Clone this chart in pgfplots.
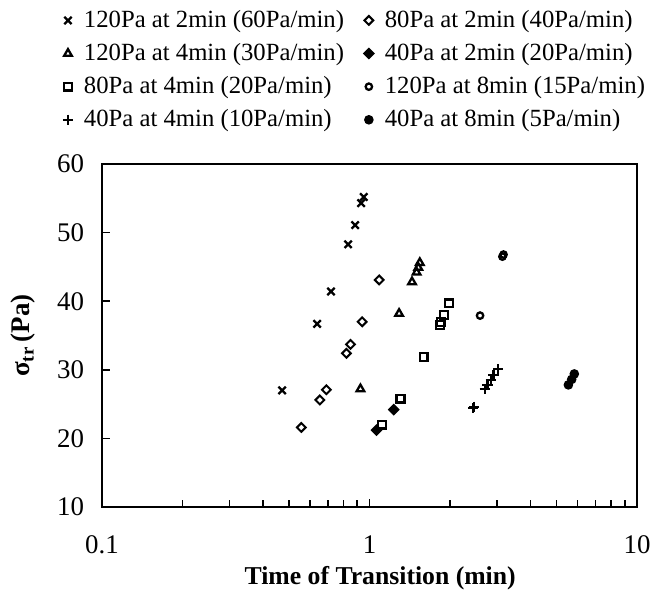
\documentclass[border=0pt]{standalone}
\usepackage{fontspec}
\setmainfont{Liberation Serif}
\usepackage{pgfplots}
\pgfplotsset{compat=1.18}
\begin{document}
\begin{tikzpicture}
\begin{axis}[
  scale only axis,
  width=267.5bp, height=171.5bp,
  xmode=log,
  xmin=0.1, xmax=10, ymin=10, ymax=60,
  xtick={0.1,1,10}, xticklabels={0.1,1,10},
  minor xtick={0.2,0.3,0.4,0.5,0.6,0.7,0.8,0.9,2,3,4,5,6,7,8,9},
  ytick={10,20,30,40,50,60},
  xtick pos=left, ytick pos=left,
  tick align=inside,
  major tick length=4bp, minor tick length=3.3bp,
  axis line style={line width=1bp},
  every tick/.style={black, line width=0.8bp},
  /pgf/number format/assume math mode=true,
  ticklabel style={font=\fontsize{13.5}{15}\selectfont},
  xticklabel style={yshift=-11bp},
  yticklabel style={xshift=-5.5bp},
  xlabel={\textbf{Time of Transition (min)}},
  xlabel style={font=\fontsize{12.9}{14}\selectfont, at={(axis description cs:0.52,-0.207)}, anchor=center},
  ylabel={\textbf{σ\textsubscript{tr}\,(Pa)}},
  ylabel style={font=\fontsize{13.5}{15}\selectfont, at={(axis description cs:-0.1477,0.5)}, anchor=center},
  legend columns=2,
  legend cell align=left,
  legend image code/.code={\path[draw=none,fill=none] (-3bp,0bp) -- (8bp,0bp); \draw[mark repeat=2,mark phase=2] plot coordinates {(-1bp,0bp)(0bp,0bp)(1bp,0bp)};},
  legend style={draw=none, fill=none, inner sep=0pt, outer sep=0pt,
    at={(axis description cs:-0.0748,1.448)}, anchor=north west,
    font=\fontsize{12.4}{14}\selectfont,
    nodes={inner sep=0pt},
    row sep=6.5bp,
    /tikz/every even column/.append style={column sep=9.4bp}},
  every axis plot/.append style={only marks, black, mark options={line width=1.15bp, solid}},
]
\addplot[mark=x, mark size=2.6bp] coordinates {
(0.471,27.0) (0.637,36.7) (0.718,41.4) (0.832,48.3) (0.884,51.1) (0.931,54.3) (0.952,55.2)};
\addlegendentry{120Pa at 2min (60Pa/min)}
\addplot[mark=square, mark size=1.55bp, mark options={rotate=45, line width=1bp}] coordinates {
(0.556,21.6) (0.652,25.6) (0.690,27.1) (0.820,32.4) (0.849,33.7) (0.939,37.0) (1.087,43.1)};
\addlegendentry{80Pa at 2min (40Pa/min)}
\addplot[mark=triangle, mark size=2.2bp] coordinates {
(0.925,27.2) (1.29,38.2) (1.442,42.8) (1.50,44.2) (1.522,44.9) (1.542,45.6)};
\addlegendentry{120Pa at 4min (30Pa/min)}
\addplot[mark=square*, mark size=1.6bp, mark options={rotate=45, line width=1bp}] coordinates {
(1.062,21.2) (1.232,24.2)};
\addlegendentry{40Pa at 2min (20Pa/min)}
\addplot[mark=square, mark size=1.95bp] coordinates {
(1.116,22.0) (1.306,25.8) (1.594,31.9) (1.838,36.5) (1.854,37.0) (1.898,38.0) (1.98,39.7)};
\addlegendentry{80Pa at 4min (20Pa/min)}
\addplot[mark=o, mark size=1.6bp] coordinates {
(2.59,37.9) (3.14,46.5) (3.17,46.8)};
\addlegendentry{120Pa at 8min (15Pa/min)}
\addplot[mark=+, mark size=2.6bp] coordinates {
(2.44,24.4) (2.46,24.6) (2.70,27.2) (2.76,27.8) (2.84,28.5) (2.91,29.2) (3.03,30.1)};
\addlegendentry{40Pa at 4min (10Pa/min)}
\addplot[mark=*, mark size=1.8bp] coordinates {
(5.54,27.8) (5.70,28.6) (5.83,29.4)};
\addlegendentry{40Pa at 8min (5Pa/min)}
\end{axis}
\pgfresetboundingbox
\path ([shift={(-51bp,-42.5bp)}]current axis.south west) rectangle ([shift={(7.5bp,82bp)}]current axis.north east);
\end{tikzpicture}
\end{document}
